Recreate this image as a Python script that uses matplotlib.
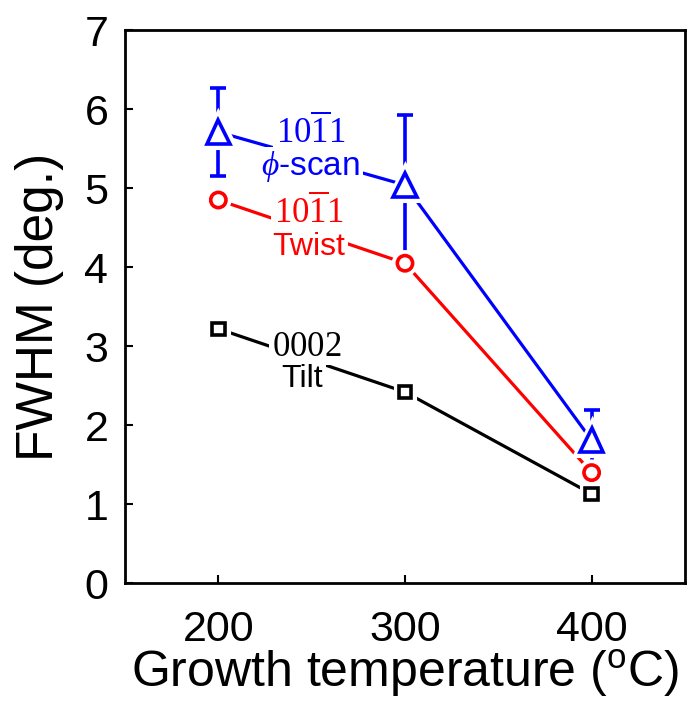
import matplotlib.pyplot as plt
import matplotlib.patheffects as pe

temps = [200, 300, 400]
tilt = [3.22, 2.42, 1.13]
twist = [4.85, 4.05, 1.40]
phi_scan = [5.71, 5.04, 1.81]
phi_err = [0.56, 0.89, 0.38]

plt.rcParams['font.family'] = ['Liberation Sans', 'DejaVu Sans']
plt.rcParams['mathtext.fontset'] = 'custom'
plt.rcParams['mathtext.rm'] = 'Liberation Serif'
plt.rcParams['mathtext.it'] = 'Liberation Serif:italic'

fig = plt.figure(figsize=(6.87, 7.01), dpi=100)
ax = fig.add_axes([0.182, 0.168, 0.815, 0.789])

halo = [pe.Stroke(linewidth=8, foreground='white'), pe.Normal()]

def draw_series(y, color, marker, ms, err=None):
    ax.plot(temps, y, color=color, lw=2.3, zorder=2)
    if err is not None:
        ax.errorbar(temps, y, yerr=err, fmt='none', ecolor=color,
                    elinewidth=2.6, capsize=5.5, capthick=2.6, zorder=3)
    ax.plot(temps, y, ls='none', marker=marker, ms=ms, mfc='white',
            mec=color, mew=2.6, zorder=4, path_effects=halo)

draw_series(tilt, 'black', 's', 9)
draw_series(twist, 'red', 'o', 11)
draw_series(phi_scan, 'blue', '^', 17, phi_err)

box = dict(facecolor='white', edgecolor='none', pad=2)
miller = r'$\mathrm{10\overline{1}1}$'

ax.text(249.5, 5.72, miller, color='blue', fontsize=25,
        ha='center', va='center', zorder=5, bbox=box)
ax.text(249.5, 5.27, r'$\mathit{\phi}$-scan', color='blue', fontsize=24,
        ha='center', va='center', zorder=5, bbox=box)
ax.text(248.5, 4.70, miller, color='red', fontsize=25,
        ha='center', va='center', zorder=5, bbox=box)
ax.text(248.5, 4.25, 'Twist', color='red', fontsize=23,
        ha='center', va='center', zorder=5, bbox=box)
ax.text(247.5, 3.00, r'$\mathrm{0002}$', color='black', fontsize=25,
        ha='center', va='center', zorder=5, bbox=box)
ax.text(245, 2.58, 'Tilt', color='black', fontsize=23,
        ha='center', va='center', zorder=5, bbox=box)

ax.set_xlim(150, 450)
ax.set_ylim(0, 7)
ax.set_xticks(temps)
ax.set_yticks(range(0, 8))
ax.tick_params(direction='in', length=6, width=1.5, labelsize=31)
ax.tick_params(axis='x', pad=19)
ax.tick_params(axis='y', pad=12)
for s in ax.spines.values():
    s.set_linewidth(2)
ax.set_xlabel('Growth temperature ($\\mathregular{^{o}}$C)', fontsize=36, labelpad=-2)
ax.set_ylabel('FWHM (deg.)', fontsize=37, labelpad=15)

fig.savefig('out.png', dpi=100)
